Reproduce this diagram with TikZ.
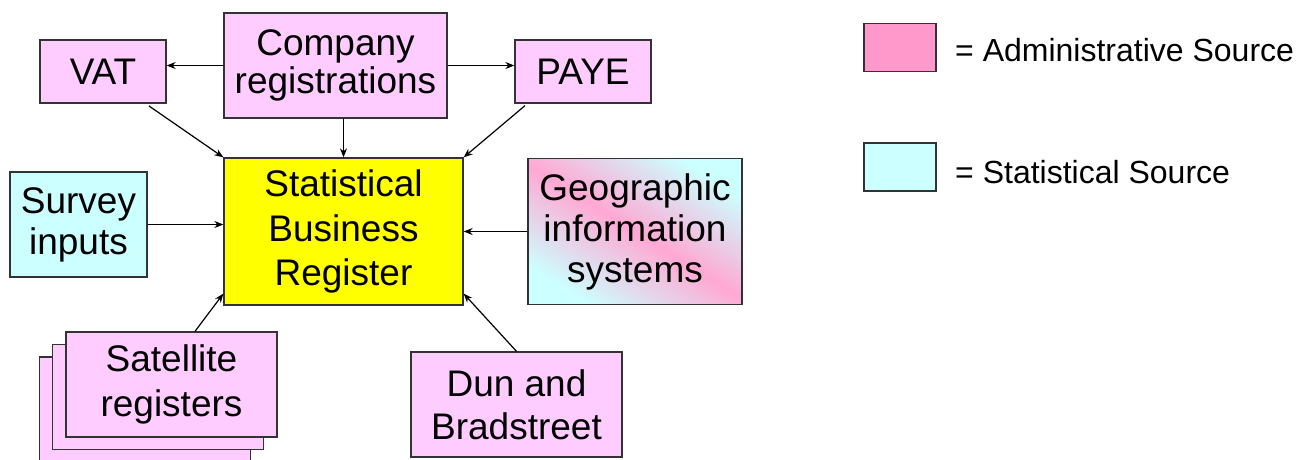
\documentclass[tikz,border=0pt]{standalone}
\usepackage{fontspec}
\setmainfont{Liberation Sans}
\usetikzlibrary{arrows.meta,calc}
\definecolor{boxpink}{HTML}{FFCCFF}
\definecolor{admpink}{HTML}{FF99CC}
\definecolor{statcyan}{HTML}{CCFFFF}
\definecolor{sbryellow}{HTML}{FFFF00}
\definecolor{edge}{HTML}{333333}
\tikzset{
  src/.style={draw=edge, line width=1.3pt, fill=boxpink, align=center, inner sep=0pt,
    font=\fontsize{37}{41}\selectfont},
  arr/.style={line width=1.2pt, -{Stealth[length=9pt,width=7pt]}},
  legbox/.style={draw=edge, line width=1.3pt, minimum width=72pt, minimum height=48pt, inner sep=0pt},
  legtext/.style={anchor=west, inner sep=0pt, font=\fontsize{32}{36}\selectfont}
}
\begin{document}
\begin{tikzpicture}[x=1pt,y=-1pt]
\useasboundingbox (0,0) rectangle (1296,459);
% nodes
\node[src, minimum width=126pt, minimum height=63pt] (VAT) at (103,71.5) {VAT};
\node[src, minimum width=223pt, minimum height=105pt, font=\fontsize{37}{38}\selectfont] (CR) at (335.5,65.5) {Company\\registrations};
\node[src, minimum width=136pt, minimum height=63pt] (PAYE) at (583,71.5) {PAYE};
\node[src, fill=sbryellow, minimum width=239pt, minimum height=147pt, font=\fontsize{37}{44.5}\selectfont] (SBR) at (343.5,231.5) {Statistical\\Business\\Register};
\node[src, fill=statcyan, minimum width=137pt, minimum height=105pt] (SUR) at (78.5,224.5) {Survey\\inputs};
\node[src, minimum width=214pt, minimum height=146pt, left color=statcyan, right color=statcyan, middle color=admpink!85!white, shading angle=-32] (GEO) at (635,231.5) {Geographic\\information\\systems};
\node[src, minimum width=211pt, minimum height=105pt] (SAT3) at (145,409.5) {};
\node[src, minimum width=211pt, minimum height=105pt] (SAT2) at (158,397) {};
\node[src, minimum width=211pt, minimum height=105pt, font=\fontsize{37}{45}\selectfont] (SAT1) at (171.5,384.5) {Satellite\\registers};
\node[src, minimum width=211pt, minimum height=105pt, font=\fontsize{37}{43}\selectfont] (DUN) at (516.5,404.5) {Dun and\\Bradstreet};
% legend
\node[legbox, fill=admpink] (LA) at (900,47.5) {};
\node[legtext] (LAT) at (955,50) {= Administrative Source};
\node[legbox, fill=statcyan] (LS) at (900,167) {};
\node[legtext] (LST) at (955,172) {= Statistical Source};
% connectors
\draw[arr] (CR.west) -- (CR.west -| VAT.east);
\draw[arr] (CR.east) -- (CR.east -| PAYE.west);
\draw[arr] (CR.south -| SBR.north) -- (SBR.north);
\draw[arr, shorten <=4pt] ([xshift=-21pt]VAT.south east) -- (SBR.north west);
\draw[arr, shorten <=3pt] ([xshift=13pt]PAYE.south west) -- (SBR.north east);
\draw[arr] (SUR.east) -- (SUR.east -| SBR.west);
\draw[arr] (GEO.west) -- (GEO.west -| SBR.east);
\draw[arr] ([xshift=23.5pt]SAT1.north) -- ([yshift=12pt]SBR.south west);
\draw[arr] (DUN.north) -- ([yshift=12pt]SBR.south east);
\end{tikzpicture}
\end{document}
